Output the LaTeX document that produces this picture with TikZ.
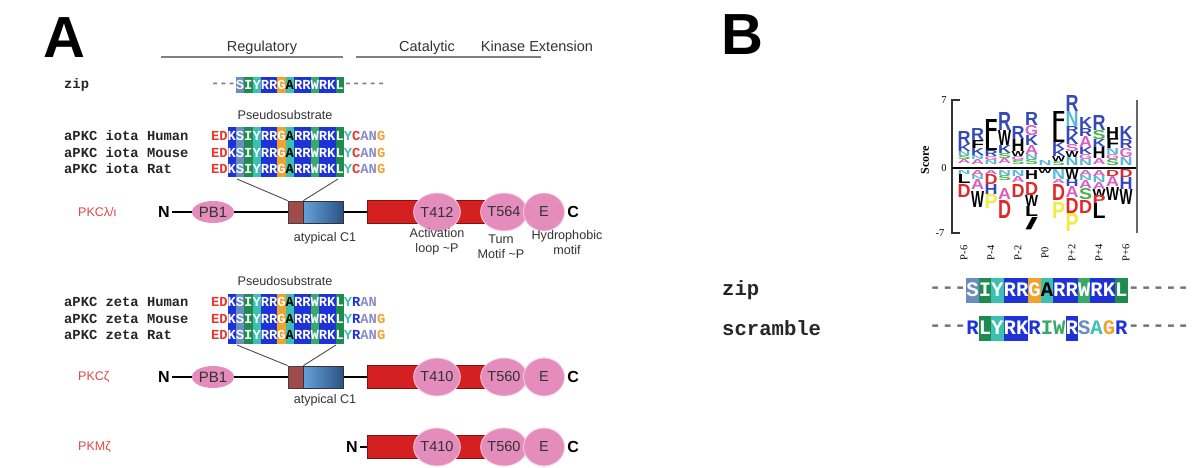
\documentclass[tikz,border=0pt]{standalone}
\usepackage{fontspec}
\setmainfont{Liberation Sans}
\newfontfamily\seqfont{Liberation Mono}
\newfontfamily\axfont{Liberation Serif}
\usepackage{tikz}
\usetikzlibrary{positioning,shapes.geometric}
\definecolor{resBlue}{HTML}{1E32D8}
\definecolor{resSteel}{HTML}{6A8CC0}
\definecolor{resGreen}{HTML}{1E8C4E}
\definecolor{resLGreen}{HTML}{36AA66}
\definecolor{resTeal}{HTML}{3CC0B0}
\definecolor{resOrange}{HTML}{F0A22C}
\definecolor{seqRed}{HTML}{E8382E}
\definecolor{seqSlate}{HTML}{8A8CC8}
\definecolor{domRed}{HTML}{D42020}
\definecolor{domBrown}{HTML}{A04A4A}
\definecolor{domPink}{HTML}{E48CBC}
\definecolor{c1Light}{HTML}{64A0D8}
\definecolor{c1Dark}{HTML}{2A5282}
\definecolor{labRed}{HTML}{E04848}
\definecolor{lgBlue}{HTML}{3548B8}
\definecolor{lgPink}{HTML}{D860C0}
\definecolor{lgRed}{HTML}{E02828}
\definecolor{lgGreen}{HTML}{48B048}
\definecolor{lgCyan}{HTML}{58B8D8}
\definecolor{lgYellow}{HTML}{F0EC48}
\newcommand{\pscols}{2/resBlue,3/resSteel,4/resGreen,5/resTeal,6/resBlue,7/resBlue,8/resOrange,9/resTeal,10/resBlue,11/resBlue,12/resLGreen,13/resBlue,14/resBlue,15/resGreen}
\newcommand{\pscore}{E/seqRed,D/seqRed,K/white,S/white,I/white,Y/white,R/white,R/white,G/white,A/black,R/white,R/white,W/white,R/white,K/white,L/white}
\newcommand{\tilP}{\textasciitilde P}
\newcommand{\lgslash}{/}
% shaded block of the pseudosubstrate
\newcommand{\psshade}[3]{%
  \foreach \c/\f in \pscols {\ifnum\c<#3\else
    \fill[\f] ({211+8.3*\c},#1) rectangle ({211+8.3*(\c+1)},#2);\fi}}
% one aligned sequence
\newcommand{\seqrow}[3]{%
  \foreach \ch/\tc [count=\i from 0] in \pscore
    {\node[res, text=\tc] (#1-\i) at ({215.15+8.3*\i},#2) {\ch};}
  \foreach \ch/\tc [count=\i from 16] in {#3}
    {\node[res, text=\tc] (#1-\i) at ({215.15+8.3*\i},#2) {\ch};}}
% kinase part of a domain map
\newcommand{\catpart}[4]{%
  \node[kin] (#1-kin) at (429,#2) {};
  \node[site] (#1-t1) at (437,#2) {#3};
  \node[site] (#1-t2) at (504,#2) {#4};
  \node[site, minimum width=41] (#1-e) at (544,#2) {E};
  \node[term, right=0pt of #1-e] (#1-c) {C};}
% regulatory part of a domain map
\newcommand{\regpart}[2]{%
  \node[term] (#1-n) at (164,#2) {N};
  \node[pbone] (#1-pb) at (213,#2) {PB1};
  \node[psbox] (#1-ps) at (295.5,#2) {};
  \node[cone, right=0pt of #1-ps] (#1-c1) {};
  \draw[backbone] (#1-n) -- (#1-pb) (#1-pb) -- (#1-ps) (#1-c1) -- (#1-kin);}
\tikzset{
  hdr/.style={font=\fontsize{12.6}{15}\selectfont, text=black!80, inner sep=0},
  bighdr/.style={hdr, font=\fontsize{14.5}{16}\selectfont, anchor=base},
  rule/.style={draw=black!50, line width=1.4},
  panel/.style={font=\bfseries\fontsize{58}{60}\selectfont, inner sep=0},
  seqlab/.style={font=\seqfont\bfseries\fontsize{13.8}{15}\selectfont, anchor=west, inner sep=0, text=black!85},
  res/.style={font=\seqfont\bfseries\fontsize{13.8}{15}\selectfont, inner sep=0, minimum width=8.3, minimum height=16},
  resb/.style={font=\seqfont\bfseries\fontsize{20.6}{22}\selectfont, inner sep=0, minimum width=12.4, minimum height=25},
  bigseqlab/.style={font=\seqfont\bfseries\fontsize{20.6}{22}\selectfont, anchor=west, inner sep=0, text=black!85},
  pkclab/.style={font=\fontsize{12.5}{14}\selectfont, text=labRed, anchor=west, inner sep=0},
  term/.style={font=\bfseries\fontsize{16}{18}\selectfont, inner sep=0, outer sep=2.5},
  pbone/.style={ellipse, fill=domPink, minimum width=42, minimum height=22, inner sep=0, font=\fontsize{15}{16}\selectfont, text=black!80},
  site/.style={ellipse, fill=domPink, draw=white!60!domPink, line width=0.8, minimum width=43, minimum height=38, inner sep=0, font=\fontsize{14.5}{16}\selectfont, text=black!80},
  psbox/.style={draw=black!75, line width=0.8, fill=domBrown, minimum width=15, minimum height=22, inner sep=0},
  cone/.style={draw=black!80, line width=0.8, left color=c1Light, right color=c1Dark, minimum width=40, minimum height=22, inner sep=0},
  kin/.style={draw=domRed!60!black, line width=0.8, fill=domRed, minimum width=124, minimum height=23, inner sep=0},
  backbone/.style={line width=2.4, black},
  zoomln/.style={draw=black!70, line width=0.9},
  note/.style={font=\fontsize{12.6}{15}\selectfont, text=black!80, align=center, inner sep=0},
  lgl/.style={anchor=south, inner sep=0, font=\bfseries\fontsize{14}{14}\selectfont},
  axlab/.style={font=\axfont\fontsize{10.5}{11}\selectfont, inner sep=0}
}
\begin{document}
\begin{tikzpicture}[x=1pt, y=-1pt]
\fill[white] (0,0) rectangle (1200,468);
\useasboundingbox (0,0) rectangle (1200,468);

% ---- panel A ----
\node[panel] (pA) at (64,38) {A};
\node[bighdr] (reg) at (262,52) {Regulatory};
\node[bighdr] (cat) at (427,52) {Catalytic};
\node[bighdr] (kext) at (537,52) {Kinase Extension};
\coordinate (rl-a) at (161,57); \coordinate (rl-b) at (343,57);
\coordinate (cl-a) at (356,57); \coordinate (cl-b) at (541,57);
\draw[rule] (rl-a) -- (rl-b);
\draw[rule] (cl-a) -- (cl-b);

% zip peptide
\node[seqlab] (zipA) at (64,85) {zip};
\psshade{77}{93}{3}
\foreach \ch/\tc [count=\i from 0] in {-/black!50,-/black!50,-/black!50,S/white,I/white,Y/white,R/white,R/white,G/white,A/black,R/white,R/white,W/white,R/white,K/white,L/white,-/black!50,-/black!50,-/black!50,-/black!50,-/black!50}
  {\node[res, text=\tc] (za-\i) at ({215.15+8.3*\i},85) {\ch};}

% iota alignment
\node[hdr] (psi) at (285,115) {Pseudosubstrate};
\psshade{127.5}{177.5}{2}
\node[seqlab] (lab-ih) at (64,136) {aPKC iota Human};
\node[seqlab] (lab-im) at (64,152.5) {aPKC iota Mouse};
\node[seqlab] (lab-ir) at (64,169) {aPKC iota Rat};
\seqrow{ih}{136}{Y/resTeal,C/seqRed,A/seqSlate,N/seqSlate,G/resOrange}
\seqrow{im}{152.5}{Y/resTeal,C/seqRed,A/seqSlate,N/seqSlate,G/resOrange}
\seqrow{ir}{169}{Y/resTeal,C/seqRed,A/seqSlate,N/seqSlate,G/resOrange}

% PKC lambda/iota
\node[pkclab] (pkci) at (78,212) {PKCλ/ι};
\catpart{r1}{212}{T412}{T564}
\regpart{r1}{212}
\coordinate (ia-l) at (237,179); \coordinate (ia-r) at (338,179);
\draw[zoomln] (ia-l) -- (r1-ps.north west);
\draw[zoomln] (ia-r) -- (r1-c1.north west);
\node[hdr] (c1-i) at (325,238) {atypical C1};
\node[note] (actl) at (437,241.5) {Activation\\loop \tilP};
\node[note] (turn) at (501,247) {Turn\\Motif \tilP};
\node[note] (hyd) at (567,242.5) {Hydrophobic\\motif};

% zeta alignment
\node[hdr] (psz) at (285,281) {Pseudosubstrate};
\psshade{293.5}{343.5}{2}
\node[seqlab] (lab-zh) at (64,302) {aPKC zeta Human};
\node[seqlab] (lab-zm) at (64,318.5) {aPKC zeta Mouse};
\node[seqlab] (lab-zr) at (64,335) {aPKC zeta Rat};
\seqrow{zh}{302}{Y/resTeal,R/resBlue,A/seqSlate,N/seqSlate}
\seqrow{zm}{318.5}{Y/resTeal,R/resBlue,A/seqSlate,N/seqSlate,G/resOrange}
\seqrow{zr}{335}{Y/resTeal,R/resBlue,A/seqSlate,N/seqSlate,G/resOrange}

% PKC zeta
\node[pkclab] (pkcz) at (78,377) {PKCζ};
\catpart{r2}{377}{T410}{T560}
\regpart{r2}{377}
\coordinate (za-l) at (237,345); \coordinate (za-r) at (336,345);
\draw[zoomln] (za-l) -- (r2-ps.north west);
\draw[zoomln] (za-r) -- (r2-c1.north west);
\node[hdr] (c1-z) at (325,400) {atypical C1};

% PKM zeta
\node[pkclab] (pkmz) at (78,447) {PKMζ};
\catpart{r3}{447}{T410}{T560}
\node[term] (r3-n) at (352,447) {N};
\draw[backbone] (r3-n) -- (r3-kin);

% ---- panel B ----
\node[panel] (pB) at (742,35) {B};

% sequence logo
\foreach \c/\ltr/\lc/\yt/\yb [count=\k] in {
  -6/R/lgBlue/132/145, -6/K/lgBlue/145/152, -6/N/lgCyan/152/156, -6/S/lgGreen/156/160, -6/A/lgPink/160/164,
  -6/N/lgCyan/171/175, -6/L/black/175/184, -6/D/lgRed/185/198,
  -5/R/lgBlue/129/141, -5/F/black/141/149, -5/K/lgBlue/149/156, -5/N/lgCyan/156/160, -5/A/lgPink/160/165,
  -5/A/lgPink/171/176, -5/N/lgCyan/176/180, -5/A/lgPink/180/190, -5/W/black/192/208,
  -4/F/black/120/139, -4/L/black/139/151, -4/R/lgBlue/151/157, -4/G/lgPink/157/161, -4/N/lgCyan/161/165,
  -4/A/lgPink/171/175, -4/D/lgRed/175/185, -4/H/lgBlue/185/195, -4/P/lgYellow/195/209,
  -3/R/lgBlue/113/131, -3/W/black/131/146, -3/K/lgBlue/146/154, -3/S/lgGreen/154/159, -3/A/lgPink/159/164,
  -3/N/lgCyan/171/176, -3/S/lgGreen/176/181, -3/A/lgPink/189/200, -3/D/lgRed/201/219,
  -2/R/lgBlue/127/140, -2/H/black/140/152, -2/W/black/152/157, -2/G/lgPink/157/161, -2/S/lgGreen/161/165,
  -2/N/lgCyan/171/177, -2/A/lgPink/177/183, -2/D/lgRed/185/198,
  -1/R/lgBlue/113/126, -1/G/lgPink/126/136, -1/K/lgBlue/136/146, -1/A/lgPink/146/155, -1/N/lgCyan/155/160, -1/S/lgGreen/160/165,
  -1/H/black/171/180, -1/D/lgRed/183/196, -1/W/black/196/207, -1/L/black/207/217, -1/\lgslash/black/218/230,
  0/N/lgCyan/161/166, 0/W/black/170/174,
  1/F/black/112/128, 1/L/black/128/143, 1/K/lgBlue/143/150, 1/K/lgBlue/150/157, 1/W/black/157/162, 1/S/lgGreen/162/166,
  1/N/lgCyan/170/180, 1/A/lgPink/180/184, 1/D/lgRed/185/201, 1/P/lgYellow/203/219,
  2/R/lgBlue/96/112, 2/N/lgCyan/112/127, 2/R/lgBlue/127/134, 2/K/lgBlue/134/145, 2/S/lgPink/145/152, 2/W/black/152/158, 2/N/lgCyan/158/166,
  2/W/black/170/180, 2/H/lgBlue/180/187, 2/A/lgPink/187/198, 2/D/lgRed/199/214, 2/P/lgYellow/214/232,
  3/K/lgBlue/118/129, 3/R/lgBlue/129/137, 3/A/lgPink/137/148, 3/K/lgBlue/148/155, 3/G/lgPink/155/160, 3/N/lgCyan/160/166,
  3/A/lgPink/171/176, 3/N/lgCyan/176/181, 3/A/lgPink/181/189, 3/S/lgGreen/189/200, 3/D/lgRed/201/214,
  4/R/lgBlue/116/131, 4/S/lgGreen/131/140, 4/K/lgBlue/140/148, 4/H/black/148/159, 4/A/lgPink/159/165,
  4/A/lgPink/171/177, 4/N/lgCyan/177/183, 4/A/lgPink/183/190, 4/W/black/190/198, 4/P/lgRed/196/205, 4/L/black/204/219,
  5/H/black/128/139, 5/F/black/139/149, 5/N/lgCyan/149/155, 5/G/lgPink/155/160, 5/S/lgGreen/160/166,
  5/D/lgRed/171/177, 5/A/lgPink/177/187, 5/W/black/188/201,
  6/K/lgBlue/127/140, 6/R/lgBlue/140/149, 6/G/lgPink/149/158, 6/N/lgCyan/158/166,
  6/D/lgRed/170/178, 6/H/lgBlue/178/190, 6/W/black/190/205}
  {\pgfmathsetmacro\lh{\yb-\yt}
   \node[lgl, text=\lc] (lg-\k) at ({1045+13.5*\c},\yb) {\resizebox{13pt}{\lh pt}{\ltr}};}
\draw[line width=1.6, black!80] (960,100) -- (952,100) -- (952,233) -- (960,233);
\draw[line width=2, black] (952,168) -- (1137,168);
\draw[line width=1.5, black!60] (1137,100) -- (1137,233);
\node[axlab] (ax-top) at (944,100) {7};
\node[axlab] (ax-mid) at (944,168) {0};
\node[axlab] (ax-bot) at (940,233) {-7};
\node[axlab, font=\axfont\bfseries\fontsize{12}{13}\selectfont, rotate=90] (score) at (925,160) {Score};
\foreach \p/\t in {-6/P-6,-4/P-4,-2/P-2,0/P0,2/P+2,4/P+4,6/P+6}
  {\node[axlab, rotate=90] (pos\p) at ({1045+13.5*\p},253) {\t};}

% zip and scramble peptides
\node[bigseqlab] (zipB) at (722,290) {zip};
\node[bigseqlab] (scrB) at (722,328) {scramble};
\foreach \ch/\tc/\bg [count=\i from 0] in {-/black!55/none,-/black!55/none,-/black!55/none,
  S/white/resSteel,I/white/resGreen,Y/white/resTeal,R/white/resBlue,R/white/resBlue,G/white/resOrange,A/black/resTeal,
  R/white/resBlue,R/white/resBlue,W/white/resLGreen,R/white/resBlue,K/white/resBlue,L/white/resGreen,
  -/black!55/none,-/black!55/none,-/black!55/none,-/black!55/none,-/black!55/none}
  {\node[resb, text=\tc, fill=\bg] (bz-\i) at ({935.4+12.4*\i},290) {\ch};}
\foreach \ch/\tc/\bg [count=\i from 0] in {-/black!55/none,-/black!55/none,-/black!55/none,
  R/resBlue/none,L/white/resGreen,Y/white/resTeal,R/white/resBlue,K/white/resBlue,R/resBlue/none,I/resLGreen/none,
  W/resLGreen/none,R/white/resBlue,S/resSteel/none,A/resTeal/none,G/resOrange/none,R/resBlue/none,
  -/black!55/none,-/black!55/none,-/black!55/none,-/black!55/none,-/black!55/none}
  {\node[resb, text=\tc, fill=\bg] (bs-\i) at ({935.4+12.4*\i},328) {\ch};}
\end{tikzpicture}
\end{document}
